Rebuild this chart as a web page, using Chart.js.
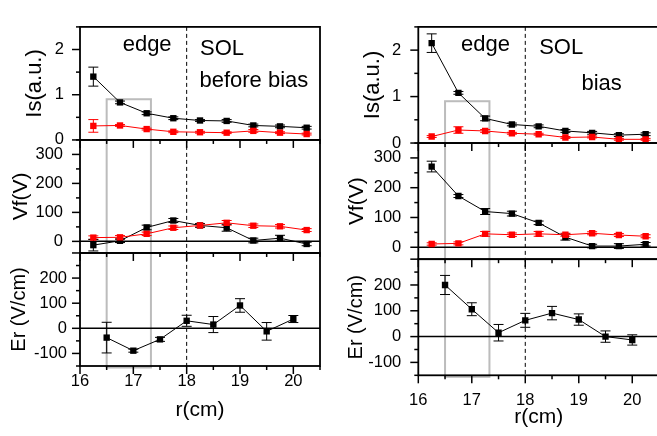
<!DOCTYPE html>
<html>
<head>
<meta charset="utf-8">
<script src="https://cdn.jsdelivr.net/npm/chart.js@4.4.1/dist/chart.umd.min.js"></script>
<style>
  html, body { margin: 0; padding: 0; background: #fff; overflow: hidden; width: 657px; height: 436px; }
  canvas { position: absolute; top: 0; }
  #cLeft { left: 0; }
  #cRight { left: 330px; }
</style>
</head>
<body>
<canvas id="cLeft" width="330" height="436"></canvas>
<canvas id="cRight" width="340" height="436"></canvas>
<script>
// radial positions (cm)
const rProbe = [16.25, 16.75, 17.25, 17.75, 18.25, 18.75, 19.25, 19.75, 20.25];
const rEr = [16.5, 17, 17.5, 18, 18.5, 19, 19.5, 20];

// tick labels
const rTicks = [16, 17, 18, 19, 20];
const isTicks = [0, 1, 2];
const vfTicks = [0, 100, 200, 300];
const erTicks = [-100, 0, 100, 200];

// --- before bias ---
const isBlackBefore    = [1.40, 0.83, 0.59, 0.48, 0.43, 0.42, 0.32, 0.30, 0.27];
const isBlackBeforeErr = [0.21, 0.03, 0.03, 0.03, 0.02, 0.03, 0.03, 0.03, 0.03];
const isRedBefore      = [0.31, 0.32, 0.24, 0.18, 0.17, 0.16, 0.20, 0.16, 0.13];
const isRedBeforeErr   = [0.14, 0.02, 0.02, 0.02, 0.02, 0.02, 0.03, 0.02, 0.02];
const vfBlackBefore    = [-13, 2, 48, 72, 55, 47, 3, 11, -9];
const vfBlackBeforeErr = [20, 6, 8, 7, 6, 12, 8, 10, 6];
const vfRedBefore      = [13, 14, 26, 47, 55, 64, 54, 52, 39];
const vfRedBeforeErr   = [6, 6, 6, 6, 6, 8, 6, 6, 5];
const erBefore         = [-37, -89, -44, 30, 15, 91, -12, 37];
const erBeforeErr      = [61, 6, 8, 22, 32, 27, 35, 14];

// --- bias ---
const isBlackBias    = [2.15, 1.08, 0.53, 0.40, 0.36, 0.26, 0.22, 0.17, 0.19];
const isBlackBiasErr = [0.20, 0.03, 0.05, 0.03, 0.03, 0.03, 0.03, 0.03, 0.03];
const isRedBias      = [0.14, 0.28, 0.26, 0.21, 0.19, 0.12, 0.13, 0.08, 0.08];
const isRedBiasErr   = [0.02, 0.07, 0.03, 0.02, 0.02, 0.02, 0.02, 0.02, 0.02];
const vfBlackBias    = [271, 172, 120, 113, 82, 34, 4, 4, 10];
const vfBlackBiasErr = [18, 5, 10, 8, 6, 10, 6, 8, 6];
const vfRedBias      = [11, 13, 45, 42, 45, 42, 47, 41, 37];
const vfRedBiasErr   = [4, 5, 8, 6, 8, 5, 5, 5, 5];
const erBias         = [200, 106, 15, 63, 91, 66, 0, -13];
const erBiasErr      = [37, 25, 32, 27, 26, 22, 22, 20];

// marked edge region and LCFS
const boxR = [16.5, 17.33];
const boxIs = 0.9;
const lcfsR = 18;

const FONT = '"Liberation Sans", Arial, sans-serif';

function series(xs, ys, errs, color, axis) {
  return {
    data: xs.map((x, i) => ({ x: x, y: ys[i] })),
    errors: errs,
    yAxisID: axis,
    borderColor: color,
    backgroundColor: color,
    borderWidth: 1,
    pointStyle: 'rect',
    pointRadius: 4.5,
    pointBorderWidth: 0,
    pointBackgroundColor: color,
    tension: 0
  };
}

function line(ctx, x0, y0, x1, y1) {
  ctx.beginPath(); ctx.moveTo(x0, y0); ctx.lineTo(x1, y1); ctx.stroke();
}

const panelPlugin = {
  id: 'panels',
  beforeDatasetsDraw(chart) {
    const { ctx, chartArea: a, scales: s } = chart;
    ctx.save();
    // grey box over the edge region
    const x0 = s.x.getPixelForValue(boxR[0]);
    const x1 = s.x.getPixelForValue(boxR[1]);
    const yTop = s.yIs.getPixelForValue(boxIs);
    ctx.strokeStyle = '#bcbcbc';
    ctx.lineWidth = 2;
    ctx.strokeRect(x0, yTop, x1 - x0, a.bottom + 1.5 - yTop);
    // dashed line at LCFS
    ctx.strokeStyle = '#000';
    ctx.lineWidth = 1;
    ctx.setLineDash([4, 3]);
    const xl = s.x.getPixelForValue(lcfsR);
    line(ctx, xl, a.top, xl, a.bottom);
    ctx.setLineDash([]);
    // zero lines
    ctx.lineWidth = 1.5;
    ['yVf', 'yEr'].forEach(id => {
      const y = s[id].getPixelForValue(0);
      line(ctx, a.left, y, a.right, y);
    });
    // error bars
    ctx.lineWidth = 1;
    chart.data.datasets.forEach((ds, i) => {
      const meta = chart.getDatasetMeta(i);
      const ys = s[ds.yAxisID];
      ctx.strokeStyle = ds.borderColor;
      meta.data.forEach((pt, j) => {
        const v = ds.data[j].y, e = ds.errors[j];
        const yHi = ys.getPixelForValue(v + e);
        const yLo = ys.getPixelForValue(v - e);
        line(ctx, pt.x, yHi, pt.x, yLo);
        line(ctx, pt.x - 5, yHi, pt.x + 5, yHi);
        line(ctx, pt.x - 5, yLo, pt.x + 5, yLo);
      });
    });
    ctx.restore();
  },
  afterDraw(chart, args, opts) {
    const { ctx, chartArea: a, scales: s } = chart;
    ctx.save();
    ctx.strokeStyle = '#000';
    const minorX = [];
    for (let r = s.x.min; r <= s.x.max + 1e-6; r += 0.5) minorX.push(r);
    [['yIs', 0.5], ['yVf', 50], ['yEr', 50]].forEach(([id, half]) => {
      const sc = s[id];
      // y ticks (outside, left)
      ctx.lineWidth = 1.5;
      for (let v = Math.ceil(sc.min / half) * half; v <= sc.max + 1e-6; v += half) {
        const y = sc.getPixelForValue(v);
        const major = Math.abs(v / (2 * half) - Math.round(v / (2 * half))) < 1e-6;
        line(ctx, a.left - (major ? 8 : 4), y, a.left, y);
      }
      // x ticks below each panel
      minorX.forEach(r => {
        const x = s.x.getPixelForValue(r);
        const major = Math.abs(r - Math.round(r)) < 1e-6;
        line(ctx, x, sc.bottom, x, sc.bottom + (major ? 8 : 4));
      });
      // frame
      ctx.lineWidth = 1.8;
      ctx.strokeRect(a.left, sc.top, a.right - a.left, sc.bottom - sc.top);
    });
    // labels
    ctx.fillStyle = '#000';
    ctx.font = '22px ' + FONT;
    ctx.textAlign = 'left';
    ctx.textBaseline = 'alphabetic';
    (opts.labels || []).forEach(l => {
      ctx.fillText(l.text, s.x.getPixelForValue(l.r), s.yIs.getPixelForValue(l.v));
    });
    ctx.restore();
  }
};

function yAxis(min, max, ticks, title, titleSize, labelPad, titlePad, width) {
  return {
    type: 'linear',
    position: 'left',
    stack: 'col',
    stackWeight: 1,
    min: min,
    max: max,
    grid: { display: false, drawTicks: false },
    border: { display: false },
    afterBuildTicks: sc => { sc.ticks = ticks.map(v => ({ value: v })); },
    afterFit: sc => { sc.width = width; },
    ticks: {
      padding: labelPad,
      color: '#000',
      font: { family: FONT, size: 16.5 },
      callback: v => String(v)
    },
    title: {
      display: true,
      text: title,
      color: '#000',
      font: { family: FONT, size: titleSize },
      padding: { top: titlePad, bottom: 0 }
    }
  };
}

function makeChart(id, sets, cfg) {
  return new Chart(document.getElementById(id), {
    type: 'line',
    data: { datasets: sets },
    options: {
      responsive: false,
      animation: false,
      layout: { padding: { top: cfg.top, right: cfg.right, left: 0, bottom: 0 } },
      plugins: {
        legend: { display: false },
        tooltip: { enabled: false },
        panels: { labels: cfg.labels }
      },
      scales: {
        x: {
          type: 'linear',
          min: 16,
          max: 20.5,
          grid: { display: false, drawTicks: false },
          border: { display: false },
          afterBuildTicks: sc => { sc.ticks = rTicks.map(v => ({ value: v })); },
          afterFit: sc => { sc.height = cfg.xHeight; },
          ticks: {
            padding: cfg.xPad,
            color: '#000',
            font: { family: FONT, size: 16.5 },
            callback: v => String(v)
          },
          title: {
            display: true,
            text: 'r(cm)',
            color: '#000',
            font: { family: FONT, size: 21 },
            padding: { top: 0, bottom: cfg.xTitlePad }
          }
        },
        yEr: yAxis(-150, 300, erTicks, 'Er (V/cm)', 20, cfg.pads[2], cfg.titlePads[2], cfg.yWidth),
        yVf: yAxis(-40, 350, vfTicks, 'Vf(V)', 21, cfg.pads[1], cfg.titlePads[1], cfg.yWidth),
        yIs: yAxis(0, 2.5, isTicks, 'Is(a.u.)', 22, cfg.pads[0], cfg.titlePads[0], cfg.yWidth)
      }
    },
    plugins: [panelPlugin]
  });
}

makeChart('cLeft', [
  series(rProbe, isRedBefore, isRedBeforeErr, '#ff0000', 'yIs'),
  series(rProbe, isBlackBefore, isBlackBeforeErr, '#000000', 'yIs'),
  series(rProbe, vfRedBefore, vfRedBeforeErr, '#ff0000', 'yVf'),
  series(rProbe, vfBlackBefore, vfBlackBeforeErr, '#000000', 'yVf'),
  series(rEr, erBefore, erBeforeErr, '#000000', 'yEr')
], {
  top: 5, right: 10, yWidth: 80, xHeight: 70, xPad: 6, xTitlePad: 13,
  pads: [16, 17, 13], titlePads: [22, 9, 7],
  labels: [
    { text: 'edge', r: 16.8, v: 1.96 },
    { text: 'SOL', r: 18.25, v: 1.87 },
    { text: 'before bias', r: 18.24, v: 1.16 }
  ]
});

makeChart('cRight', [
  series(rProbe, isRedBias, isRedBiasErr, '#ff0000', 'yIs'),
  series(rProbe, isBlackBias, isBlackBiasErr, '#000000', 'yIs'),
  series(rProbe, vfRedBias, vfRedBiasErr, '#ff0000', 'yVf'),
  series(rProbe, vfBlackBias, vfBlackBiasErr, '#000000', 'yVf'),
  series(rEr, erBias, erBiasErr, '#000000', 'yEr')
], {
  top: 13.3, right: 11, yWidth: 88.3, xHeight: 60.7, xPad: 15, xTitlePad: 6,
  pads: [17, 17, 17], titlePads: [30, 15, 14],
  labels: [
    { text: 'edge', r: 16.8, v: 1.99 },
    { text: 'SOL', r: 18.26, v: 1.91 },
    { text: 'bias', r: 19.05, v: 1.14 }
  ]
});
</script>
</body>
</html>
